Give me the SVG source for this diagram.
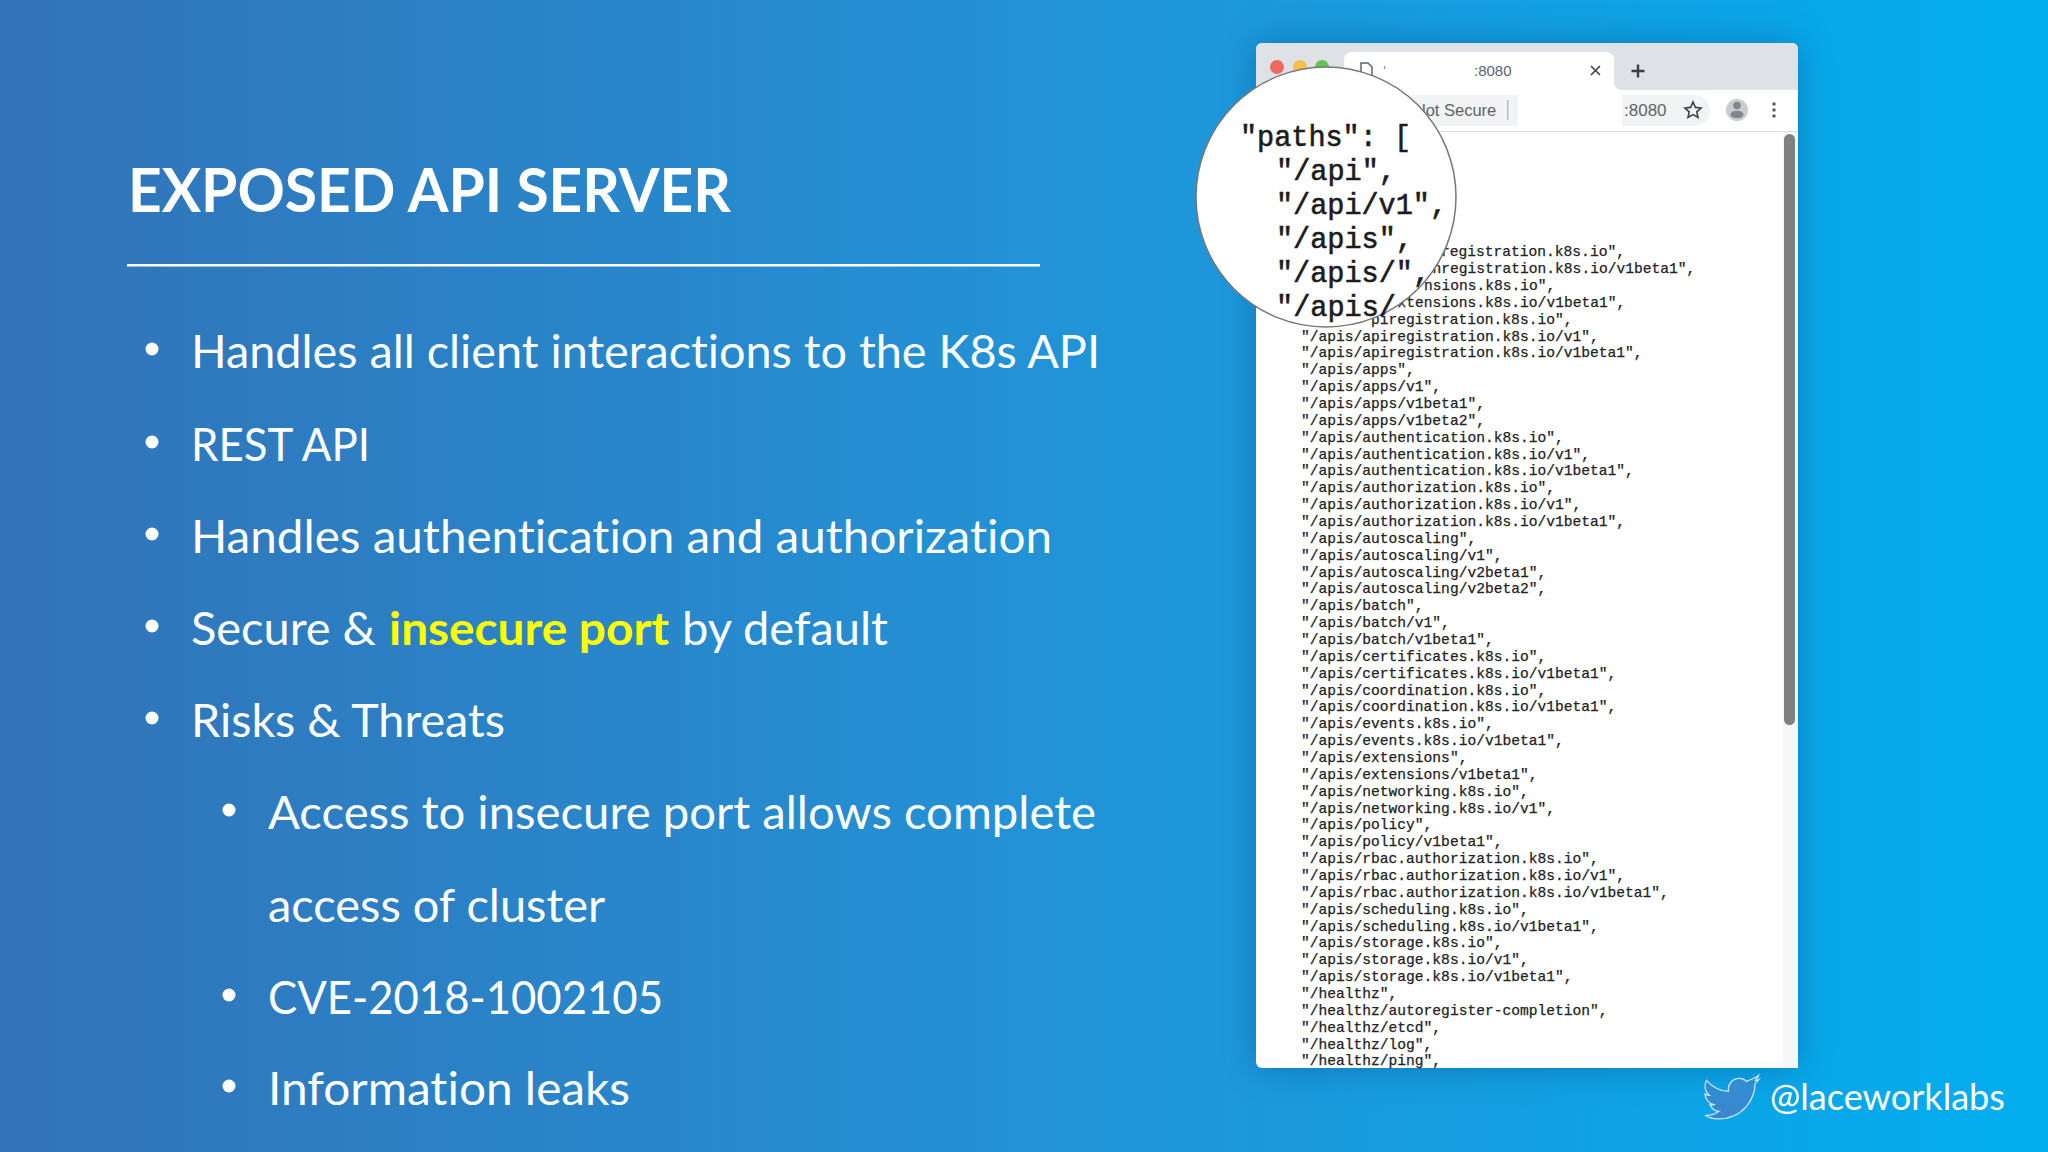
<svg xmlns="http://www.w3.org/2000/svg" width="2048" height="1152" viewBox="0 0 2048 1152">
<style>
.t{font-family:"Lato","Open Sans",sans-serif;font-size:46px;fill:#fff;font-variant-ligatures:none}
.m{font-family:"Liberation Mono",monospace;font-size:14.6px;fill:#222;stroke:#222;stroke-width:.25}
.z{font-family:"Liberation Mono",monospace;font-size:30px;fill:#1c1c1c;stroke:#1c1c1c;stroke-width:.6}
.u{font-family:"Liberation Sans",sans-serif;fill:#5f6368}
.b{fill:#fff}
</style>
<defs>
<linearGradient id="bg" x1="0" y1="0" x2="1" y2="0"><stop offset="0" stop-color="#3273b8"/><stop offset=".5" stop-color="#2392d6"/><stop offset="1" stop-color="#01aeef"/></linearGradient>
<linearGradient id="bird" x1="0" y1="0" x2="0" y2="1"><stop offset="0" stop-color="#2f8fd6"/><stop offset="1" stop-color="#3a86cc"/></linearGradient>
<filter id="sh" x="-15%" y="-10%" width="130%" height="120%"><feGaussianBlur stdDeviation="18"/></filter>
</defs>
<rect width="2048" height="1152" fill="url(#bg)"/>
<g id="slide-text">
<text x="128" y="212" class="t" style="font-size:62px;font-weight:700" textLength="603" lengthAdjust="spacingAndGlyphs">EXPOSED API SERVER</text>
<rect x="127" y="264" width="913" height="2.5" fill="#fff"/>
<circle class="b" cx="152" cy="349" r="6.5"/><text x="191" y="368" class="t" textLength="909" lengthAdjust="spacingAndGlyphs">Handles all client interactions to the K8s API</text>
<circle class="b" cx="152" cy="442" r="6.5"/><text x="191" y="461" class="t" textLength="179" lengthAdjust="spacingAndGlyphs">REST API</text>
<circle class="b" cx="152" cy="534" r="6.5"/><text x="191" y="553" class="t" textLength="861" lengthAdjust="spacingAndGlyphs">Handles authentication and authorization</text>
<circle class="b" cx="152" cy="626" r="6.5"/><text x="191" y="645" class="t" textLength="185" lengthAdjust="spacingAndGlyphs">Secure &amp;</text>
<text x="389" y="645" class="t" style="font-weight:700;fill:#ff0" textLength="280" lengthAdjust="spacingAndGlyphs">insecure port</text>
<text x="682" y="645" class="t" textLength="206" lengthAdjust="spacingAndGlyphs">by default</text>
<circle class="b" cx="152" cy="718" r="6.5"/><text x="191" y="737" class="t" textLength="314" lengthAdjust="spacingAndGlyphs">Risks &amp; Threats</text>
<circle class="b" cx="229" cy="810" r="6.5"/><text x="268" y="829" class="t" textLength="828" lengthAdjust="spacingAndGlyphs">Access to insecure port allows complete</text>
<text x="268" y="922" class="t" textLength="337" lengthAdjust="spacingAndGlyphs">access of cluster</text>
<circle class="b" cx="229" cy="995" r="6.5"/><text x="268" y="1014" class="t" textLength="395" lengthAdjust="spacingAndGlyphs">CVE-2018-1002105</text>
<circle class="b" cx="229" cy="1086" r="6.5"/><text x="268" y="1105" class="t" textLength="362" lengthAdjust="spacingAndGlyphs">Information leaks</text>
</g>
<g id="browser">
<rect x="1256" y="43" width="542" height="1025" rx="6" fill="#0a3f78" opacity=".4" filter="url(#sh)"/>
<rect x="1256" y="43" width="542" height="1025" rx="6" fill="#fff"/>
<path d="M1256 90V49a6 6 0 0 1 6-6h530a6 6 0 0 1 6 6v41z" fill="#dee1e6"/>
<circle cx="1277" cy="67" r="7" fill="#ed6a5e"/><circle cx="1300" cy="67" r="7" fill="#f5bf4f"/><circle cx="1322" cy="67" r="7" fill="#61c554"/>
<path d="M1336 90a8 8 0 0 0 8-8V60a8 8 0 0 1 8-8h254a8 8 0 0 1 8 8v22a8 8 0 0 0 8 8z" fill="#fff"/>
<path d="M1361 63h7l4 4v12h-11z" fill="none" stroke="#5f6368" stroke-width="1.5"/>
<path d="M1385 66l-.8 3" stroke="#8a8d91" stroke-width="1.200"/>
<text x="1474" y="76" class="u" font-size="15">:8080</text>
<path d="M1591 66l9 9m0-9l-9 9" stroke="#3c4043" stroke-width="1.600" fill="none"/>
<path d="M1631.500 71h13m-6.500-6.500v13" stroke="#3c4043" stroke-width="2.400" fill="none"/>
<rect x="1256" y="90" width="542" height="41" fill="#fff"/>
<rect x="1400" y="95" width="310" height="31" rx="15" fill="#f1f3f4"/>
<rect x="1518" y="95" width="104" height="31" fill="#fff"/>
<text x="1422" y="116" class="u" font-size="16.500">lot Secure</text>
<rect x="1507" y="100" width="1.500" height="20" fill="#b9bcc0"/>
<text x="1624" y="116" class="u" font-size="17">:8080</text>
<path d="M1693 102l2.400 5.400 5.600.6-4.200 3.800 1.200 5.700-5-2.900-5 2.900 1.200-5.700-4.200-3.800 5.600-.6z" fill="none" stroke="#3c4043" stroke-width="1.600"/>
<circle cx="1737" cy="110" r="11" fill="#c8cbcf"/><circle cx="1737" cy="105.500" r="3.800" fill="#80868b"/><ellipse cx="1737" cy="114.500" rx="6.500" ry="3.800" fill="#80868b"/>
<circle cx="1774" cy="104" r="1.800" fill="#5f6368"/><circle cx="1774" cy="110" r="1.800" fill="#5f6368"/><circle cx="1774" cy="116" r="1.800" fill="#5f6368"/>
<rect x="1256" y="131" width="542" height="1" fill="#dadce0"/>
<rect x="1783" y="132" width="15" height="936" fill="#f6f6f6"/>
<rect x="1784" y="134" width="11" height="591" rx="5.500" fill="#808080"/>
<g id="listing">
<text x="1441" y="256.200" class="m">registration.k8s.io",</text>
<text x="1432.500" y="273.100" class="m">nregistration.k8s.io/v1beta1",</text>
<text x="1424" y="289.900" class="m">nsions.k8s.io",</text>
<text x="1397.500" y="306.800" class="m">xtensions.k8s.io/v1beta1",</text>
<text x="1371" y="323.600" class="m">piregistration.k8s.io",</text>
<text x="1301" y="340.500" class="m">"/apis/apiregistration.k8s.io/v1",</text>
<text x="1301" y="357.400" class="m">"/apis/apiregistration.k8s.io/v1beta1",</text>
<text x="1301" y="374.200" class="m">"/apis/apps",</text>
<text x="1301" y="391.100" class="m">"/apis/apps/v1",</text>
<text x="1301" y="407.900" class="m">"/apis/apps/v1beta1",</text>
<text x="1301" y="424.800" class="m">"/apis/apps/v1beta2",</text>
<text x="1301" y="441.700" class="m">"/apis/authentication.k8s.io",</text>
<text x="1301" y="458.500" class="m">"/apis/authentication.k8s.io/v1",</text>
<text x="1301" y="475.400" class="m">"/apis/authentication.k8s.io/v1beta1",</text>
<text x="1301" y="492.200" class="m">"/apis/authorization.k8s.io",</text>
<text x="1301" y="509.100" class="m">"/apis/authorization.k8s.io/v1",</text>
<text x="1301" y="525.900" class="m">"/apis/authorization.k8s.io/v1beta1",</text>
<text x="1301" y="542.800" class="m">"/apis/autoscaling",</text>
<text x="1301" y="559.700" class="m">"/apis/autoscaling/v1",</text>
<text x="1301" y="576.500" class="m">"/apis/autoscaling/v2beta1",</text>
<text x="1301" y="593.400" class="m">"/apis/autoscaling/v2beta2",</text>
<text x="1301" y="610.200" class="m">"/apis/batch",</text>
<text x="1301" y="627.100" class="m">"/apis/batch/v1",</text>
<text x="1301" y="644" class="m">"/apis/batch/v1beta1",</text>
<text x="1301" y="660.800" class="m">"/apis/certificates.k8s.io",</text>
<text x="1301" y="677.700" class="m">"/apis/certificates.k8s.io/v1beta1",</text>
<text x="1301" y="694.500" class="m">"/apis/coordination.k8s.io",</text>
<text x="1301" y="711.400" class="m">"/apis/coordination.k8s.io/v1beta1",</text>
<text x="1301" y="728.300" class="m">"/apis/events.k8s.io",</text>
<text x="1301" y="745.100" class="m">"/apis/events.k8s.io/v1beta1",</text>
<text x="1301" y="762" class="m">"/apis/extensions",</text>
<text x="1301" y="778.800" class="m">"/apis/extensions/v1beta1",</text>
<text x="1301" y="795.700" class="m">"/apis/networking.k8s.io",</text>
<text x="1301" y="812.600" class="m">"/apis/networking.k8s.io/v1",</text>
<text x="1301" y="829.400" class="m">"/apis/policy",</text>
<text x="1301" y="846.300" class="m">"/apis/policy/v1beta1",</text>
<text x="1301" y="863.100" class="m">"/apis/rbac.authorization.k8s.io",</text>
<text x="1301" y="880" class="m">"/apis/rbac.authorization.k8s.io/v1",</text>
<text x="1301" y="896.900" class="m">"/apis/rbac.authorization.k8s.io/v1beta1",</text>
<text x="1301" y="913.700" class="m">"/apis/scheduling.k8s.io",</text>
<text x="1301" y="930.600" class="m">"/apis/scheduling.k8s.io/v1beta1",</text>
<text x="1301" y="947.400" class="m">"/apis/storage.k8s.io",</text>
<text x="1301" y="964.300" class="m">"/apis/storage.k8s.io/v1",</text>
<text x="1301" y="981.200" class="m">"/apis/storage.k8s.io/v1beta1",</text>
<text x="1301" y="998" class="m">"/healthz",</text>
<text x="1301" y="1014.900" class="m">"/healthz/autoregister-completion",</text>
<text x="1301" y="1031.700" class="m">"/healthz/etcd",</text>
<text x="1301" y="1048.600" class="m">"/healthz/log",</text>
<text x="1301" y="1065.400" class="m">"/healthz/ping",</text>
</g>
</g>
<g id="magnifier">
<circle cx="1326" cy="197" r="130" fill="#fff" stroke="#777" stroke-width="1.500"/>
<text x="1240" y="145.500" class="z" textLength="171" lengthAdjust="spacingAndGlyphs">"paths": [</text>
<text x="1276" y="179.500" class="z" textLength="120" lengthAdjust="spacingAndGlyphs">"/api",</text>
<text x="1276" y="213.500" class="z" textLength="171" lengthAdjust="spacingAndGlyphs">"/api/v1",</text>
<text x="1276" y="247.500" class="z" textLength="137" lengthAdjust="spacingAndGlyphs">"/apis",</text>
<text x="1276" y="281.500" class="z" textLength="154" lengthAdjust="spacingAndGlyphs">"/apis/",</text>
<text x="1276" y="315.500" class="z" textLength="120" lengthAdjust="spacingAndGlyphs">"/apis/</text>
</g>
<g id="handle">
<path d="M1752 1079c3-1 5-2 6.500-3.500-.5 2-1.500 3.500-3 5 1.500 0 2.500-.5 3.500-1-1 1.500-2.300 3-4 4.300 0 14-11 35-37 35-5 0-10-1.500-13-3.500 5 .5 10-1 14-4-4.500 0-7.500-3-9-6.500 1.500.3 3 .2 4-.2-5-1-9-5.500-9-10.500 1.500.8 3 1.300 4.500 1.300-4.500-3.500-6-9.500-3-15 5.500 6.500 13 10.500 22 11-1-7 4-13 10.500-13 3 0 5.800 1.200 7.500 3z" fill="url(#bird)" stroke="#c9e6f7" stroke-width="1.300"/>
<text x="1770" y="1110" class="t" style="font-size:37px" textLength="235" lengthAdjust="spacingAndGlyphs">@laceworklabs</text>
</g>
</svg>
